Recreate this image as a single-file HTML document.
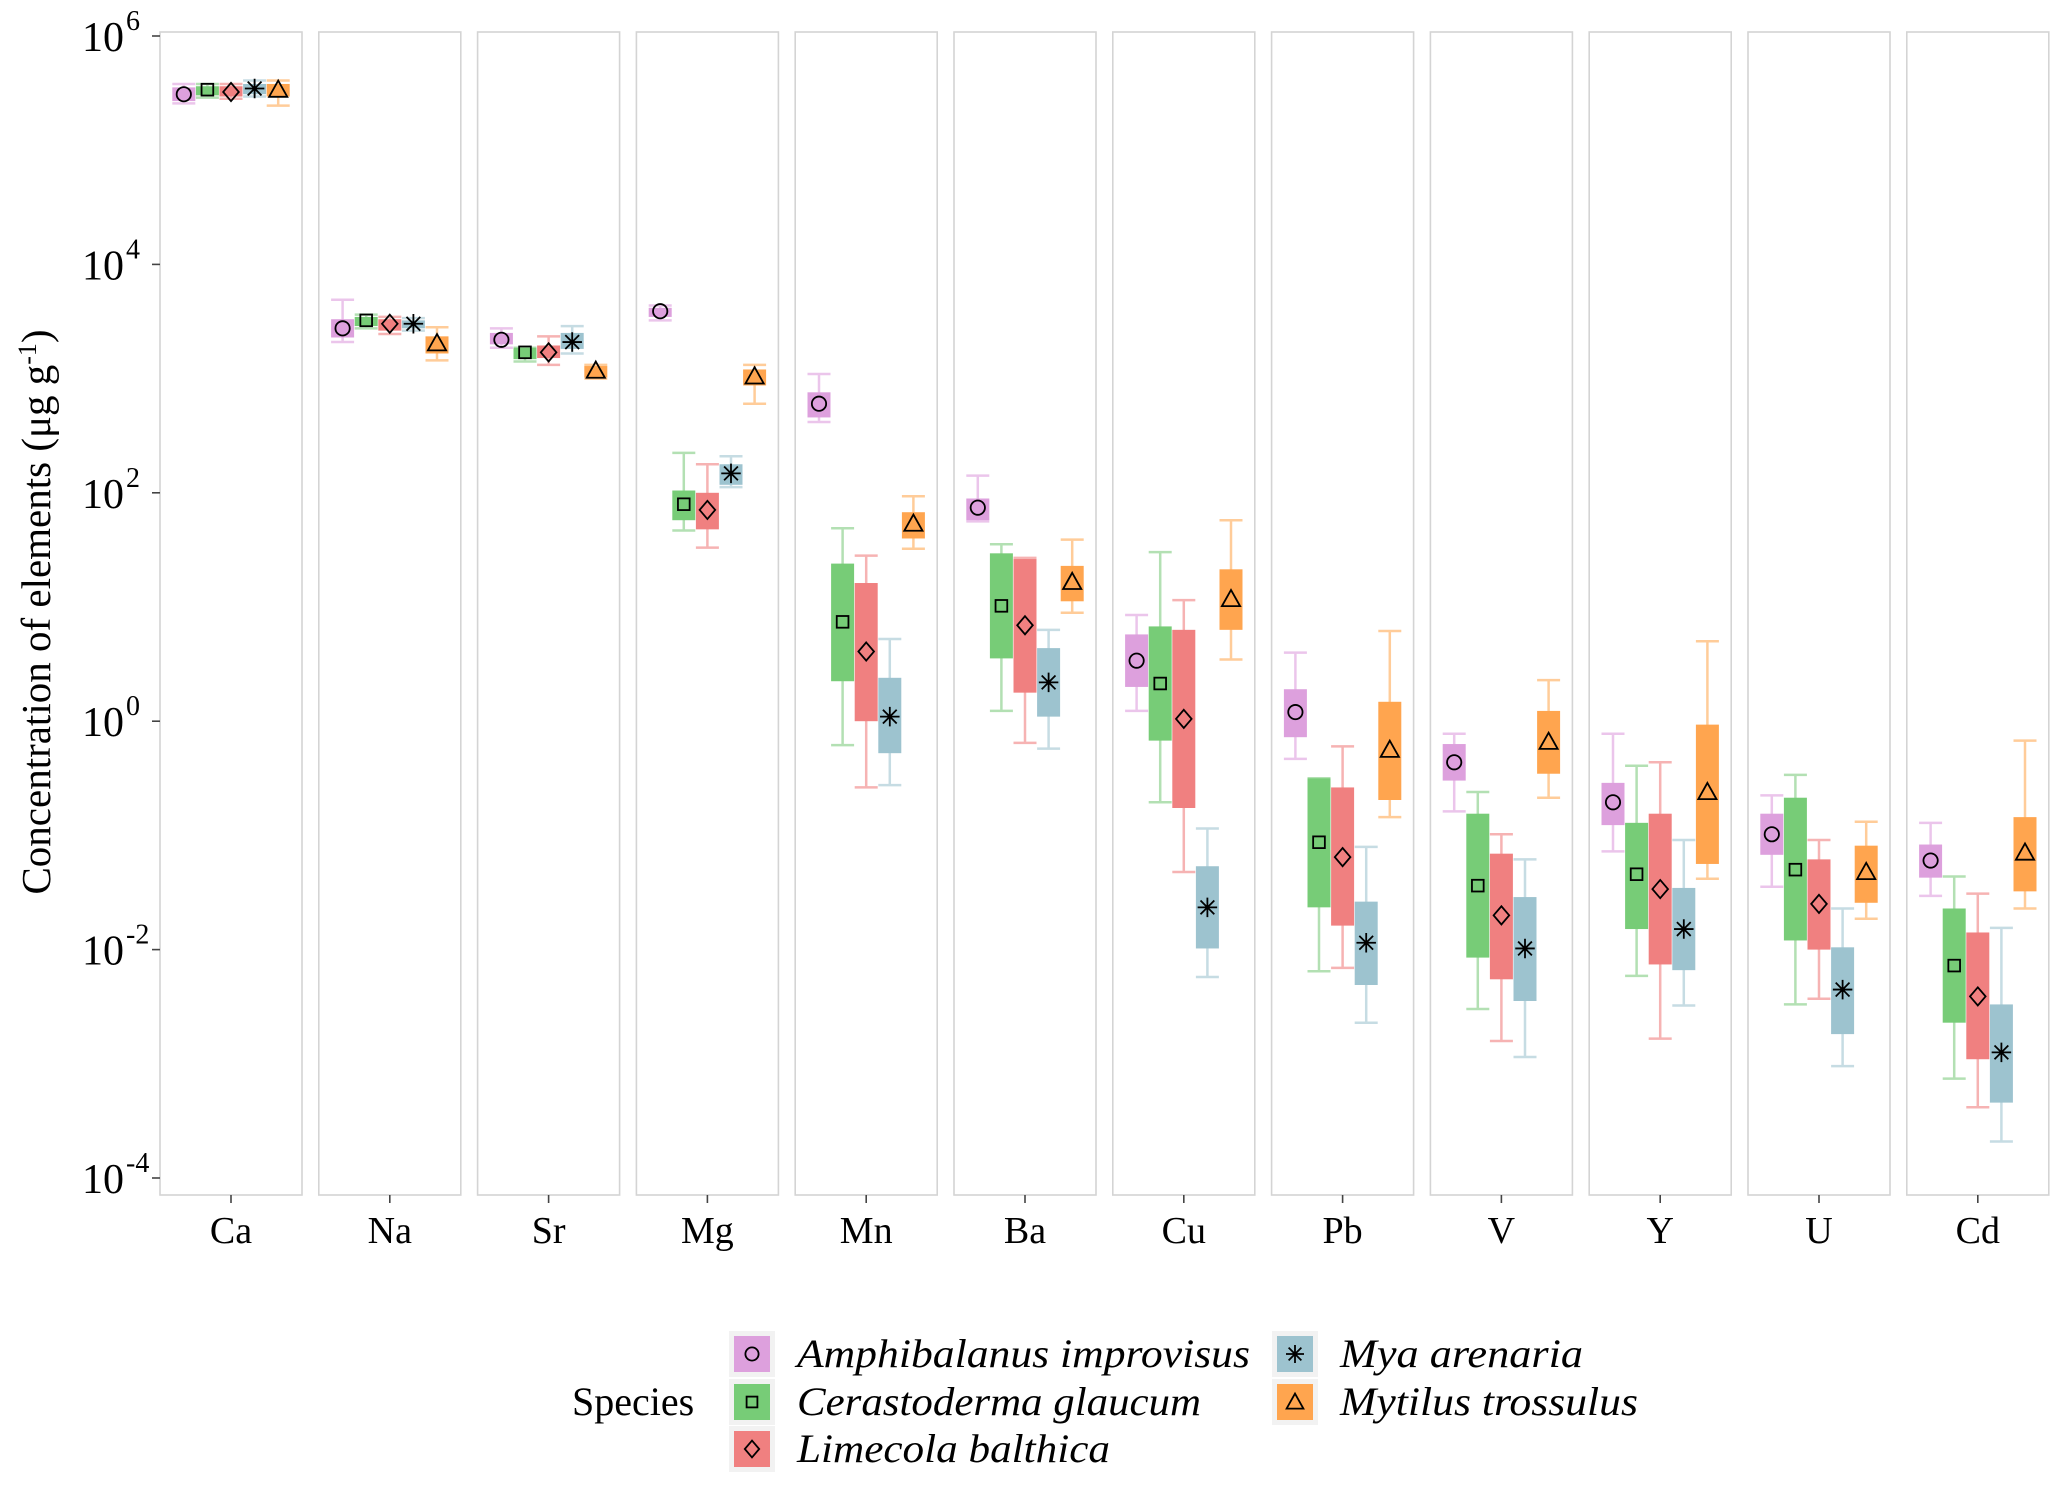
<!DOCTYPE html>
<html><head><meta charset="utf-8"><style>
body{margin:0;background:#fff}
svg{display:block}
text{font-family:"Liberation Serif",serif;fill:#000}
</style></head><body>
<svg id="c" width="2067" height="1488" viewBox="0 0 2067 1488"></svg>
<script>
const elements=["Ca","Na","Sr","Mg","Mn","Ba","Cu","Pb","V","Y","U","Cd"];
const species=["Amphibalanus improvisus","Cerastoderma glaucum","Limecola balthica","Mya arenaria","Mytilus trossulus"];
const yTickExps=[6,4,2,0,-2,-4];
// log10 values per element: [A,C,L,M,T]
const logHi=[[5.58,5.58,5.58,5.61,5.61],[3.69,3.56,3.54,3.53,3.45],[3.44,3.27,3.37,3.46,3.12],[3.64,2.35,2.25,2.32,3.12],[3.04,1.69,1.45,0.72,1.97],[2.15,1.55,1.43,0.80,1.59],[0.93,1.48,1.06,-0.94,1.76],[0.60,-0.50,-0.22,-1.10,0.79],[-0.11,-0.62,-0.99,-1.21,0.36],[-0.11,-0.39,-0.36,-1.04,0.70],[-0.65,-0.47,-1.04,-1.64,-0.88],[-0.89,-1.36,-1.51,-1.81,-0.17]];
const logQ3=[[5.55,5.56,5.56,5.58,5.58],[3.52,3.54,3.52,3.51,3.37],[3.40,3.27,3.29,3.40,3.11],[3.62,2.02,2.00,2.25,3.08],[2.88,1.38,1.21,0.38,1.83],[1.95,1.47,1.42,0.64,1.36],[0.76,0.83,0.80,-1.27,1.33],[0.28,-0.50,-0.58,-1.58,0.17],[-0.20,-0.81,-1.16,-1.54,0.09],[-0.54,-0.89,-0.81,-1.46,-0.03],[-0.81,-0.67,-1.21,-1.98,-1.09],[-1.08,-1.64,-1.85,-2.48,-0.84]];
const logMark=[[5.49,5.53,5.51,5.54,5.53],[3.44,3.51,3.48,3.48,3.31],[3.34,3.23,3.23,3.32,3.07],[3.59,1.90,1.85,2.17,3.02],[2.78,0.87,0.61,0.04,1.73],[1.87,1.01,0.84,0.34,1.22],[0.53,0.33,0.02,-1.63,1.07],[0.08,-1.06,-1.19,-1.94,-0.25],[-0.36,-1.44,-1.70,-1.99,-0.18],[-0.71,-1.34,-1.47,-1.82,-0.62],[-0.99,-1.30,-1.60,-2.35,-1.32],[-1.22,-2.14,-2.41,-2.90,-1.15]];
const logQ1=[[5.43,5.48,5.47,5.49,5.47],[3.36,3.46,3.42,3.45,3.22],[3.30,3.17,3.18,3.26,3.01],[3.54,1.76,1.68,2.07,2.94],[2.66,0.35,0.00,-0.28,1.60],[1.76,0.55,0.25,0.04,1.05],[0.30,-0.17,-0.76,-1.99,0.80],[-0.14,-1.63,-1.79,-2.31,-0.69],[-0.52,-2.07,-2.26,-2.45,-0.46],[-0.91,-1.82,-2.13,-2.18,-1.25],[-1.17,-1.92,-2.00,-2.74,-1.59],[-1.37,-2.64,-2.96,-3.34,-1.49]];
const logLo=[[5.41,5.46,5.45,5.47,5.39],[3.32,3.44,3.39,3.42,3.16],[3.27,3.15,3.12,3.22,3.00],[3.51,1.67,1.52,2.05,2.78],[2.62,-0.21,-0.58,-0.56,1.51],[1.75,0.09,-0.19,-0.24,0.95],[0.09,-0.71,-1.32,-2.24,0.54],[-0.33,-2.19,-2.16,-2.64,-0.84],[-0.79,-2.52,-2.80,-2.94,-0.67],[-1.14,-2.23,-2.78,-2.49,-1.38],[-1.45,-2.48,-2.43,-3.02,-1.73],[-1.53,-3.13,-3.38,-3.68,-1.64]];

const fill=["#DDA0DD","#77CC77","#F08080","#9DC3CF","#FFA54F"];
const wcol=["#EBC5EB","#B3E0B3","#F6B3B3","#C6DCE3","#FFCC99"];
const NS="http://www.w3.org/2000/svg";
const svg=document.getElementById('c');
function mk(t,a,p){const e=document.createElementNS(NS,t);for(const k in a)e.setAttribute(k,a[k]);(p||svg).appendChild(e);return e;}
const plotTop=32,plotBot=1195,y6=36,yDec=114.2;
function yScale(l){return y6+(6-l)*yDec;}
const pL=160,pW=142,pStep=158.8,dodge=23.6,bw=23;
function panelX(i){return pL+i*pStep;}
function boxX(i,j){return panelX(i)+pW/2+(j-2)*dodge;}

function marker(g,j,x,y,s){
  const st={fill:"none",stroke:"#000","stroke-width":1.8};
  let e;
  if(j===0)e=mk('circle',Object.assign({cx:x,cy:y,r:s*0.55},st),g);
  else if(j===1)e=mk('rect',Object.assign({x:x-s*0.45,y:y-s*0.45,width:s*0.9,height:s*0.9},st),g);
  else if(j===2)e=mk('path',Object.assign({d:`M${x} ${y-s*0.7}L${x+s*0.6} ${y}L${x} ${y+s*0.7}L${x-s*0.6} ${y}Z`},st),g);
  else if(j===3){let d="";for(let k=0;k<4;k++){const a=k*Math.PI/4;d+=`M${x-Math.cos(a)*s*0.75} ${y-Math.sin(a)*s*0.75}L${x+Math.cos(a)*s*0.75} ${y+Math.sin(a)*s*0.75}`;}e=mk('path',Object.assign({d},st),g);}
  else e=mk('path',Object.assign({d:`M${x} ${y-s*0.7}L${x+s*0.7} ${y+s*0.55}L${x-s*0.7} ${y+s*0.55}Z`},st),g);
  
  
}

elements.forEach((el,i)=>{
  const x0=panelX(i);
  const r=mk('rect',{x:x0,y:plotTop,width:pW,height:plotBot-plotTop,fill:"#fff",stroke:"#d4d4d4","stroke-width":1.6});
  
  
  const cx=x0+pW/2;
  mk('line',{x1:cx,x2:cx,y1:plotBot,y2:plotBot+8,stroke:"#444","stroke-width":1.6});
  const t=mk('text',{x:cx,y:1243,"font-size":38,"text-anchor":"middle"});
  t.textContent=el;
  
  
  for(let j=0;j<5;j++){
    const g=mk('g',{});
    
    
    const bx=boxX(i,j);
    const yh=yScale(logHi[i][j]),yq3=yScale(logQ3[i][j]),yq1=yScale(logQ1[i][j]),yl=yScale(logLo[i][j]),ym=yScale(logMark[i][j]);
    mk('line',{x1:bx,x2:bx,y1:yh,y2:yl,stroke:wcol[j],"stroke-width":2.5},g);
    mk('line',{x1:bx-bw*0.5,x2:bx+bw*0.5,y1:yh,y2:yh,stroke:wcol[j],"stroke-width":2.5},g);
    mk('line',{x1:bx-bw*0.5,x2:bx+bw*0.5,y1:yl,y2:yl,stroke:wcol[j],"stroke-width":2.5},g);
    mk('rect',{x:bx-bw/2,y:yq3,width:bw,height:Math.max(yq1-yq3,8),fill:fill[j]},g);
    marker(g,j,bx,ym,13);
  }
});
yTickExps.forEach(e=>{
  const y=yScale(e);
  mk('line',{x1:152,x2:160,y1:y,y2:y,stroke:"#444","stroke-width":1.6});
  const t=mk('text',{x:124,y:y+15,"font-size":42,"text-anchor":"end"});
  t.textContent="10";
  
  
  const s=mk('text',{x:126,y:y-6,"font-size":28,"text-anchor":"start"});
  s.textContent=String(e);
  
  
});
const yt=mk('text',{transform:"translate(50,612) rotate(-90)","font-size":41,"text-anchor":"middle"});
yt.innerHTML='Concentration of elements (μg g<tspan dy="-14" font-size="26">-1</tspan><tspan dy="14">)</tspan>';



const lg=mk('g',{});


const st=mk('text',{x:572,y:1415,"font-size":40},lg);
st.textContent="Species";


const pos=[[731,1354],[731,1402],[731,1449],[1274,1354],[1274,1402]];
const tl=[453,404,313,243,298];
species.forEach((sp,j)=>{
  const [kx,ky]=pos[j];
  const g=mk('g',{},lg);
  
  
  mk('rect',{x:kx-2,y:ky-23,width:46,height:46,fill:"#f2f2f2"},g);
  mk('rect',{x:kx+3,y:ky-18,width:36,height:36,fill:fill[j]},g);
  marker(g,j,kx+21,ky,12);
  const t=mk('text',{x:kx+66,y:ky+13,"font-size":40,"font-style":"italic",textLength:tl[j],lengthAdjust:"spacingAndGlyphs"},g);
  t.textContent=sp;
});
</script>
</body></html>
